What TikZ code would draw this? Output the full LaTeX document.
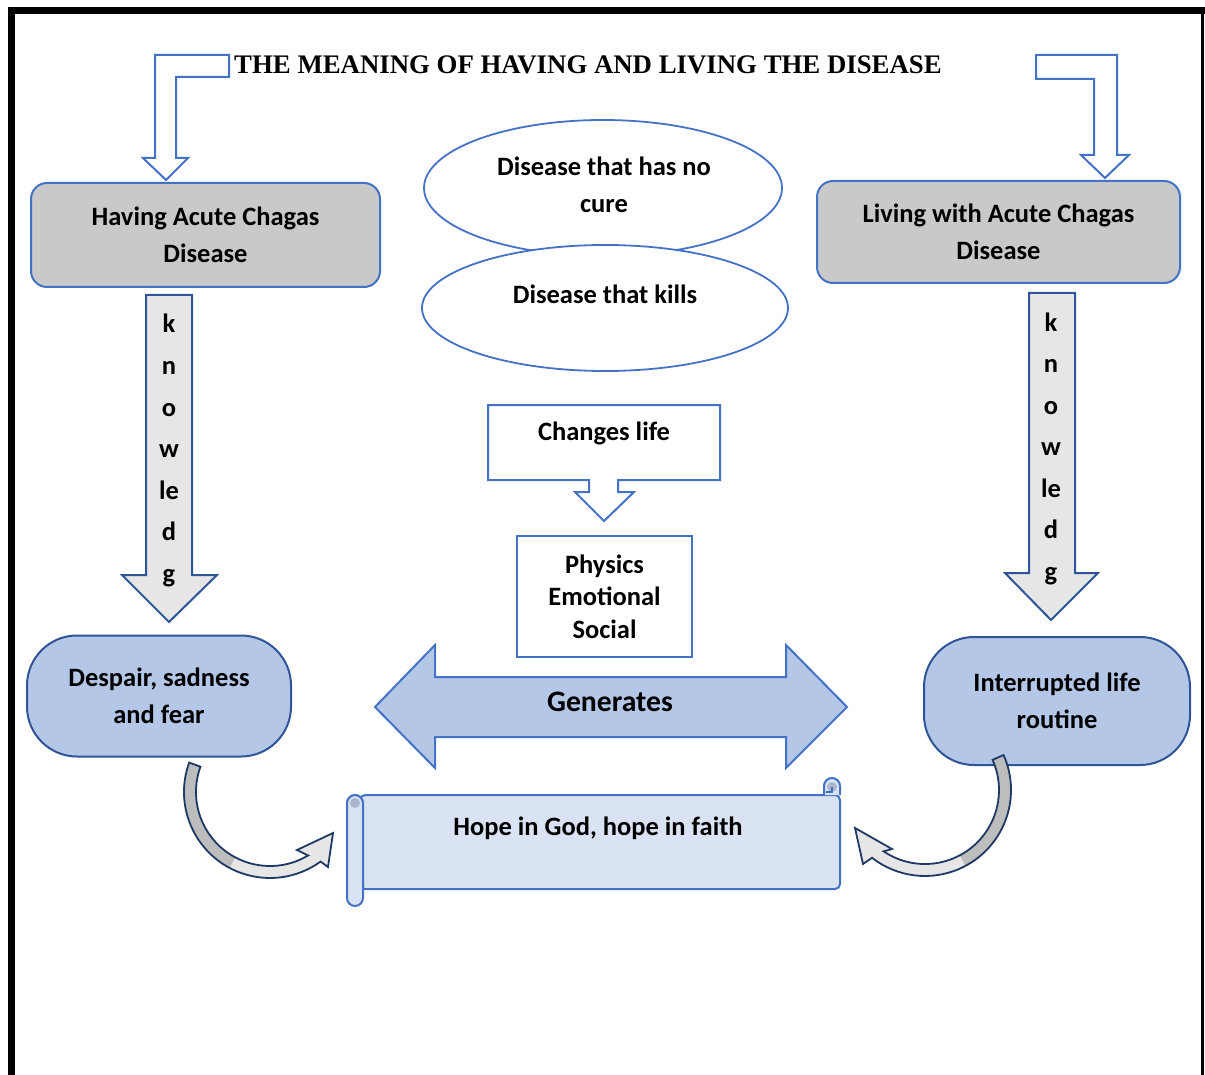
\documentclass[tikz,border=0pt]{standalone}
\usepackage{fontspec}
\setmainfont{Carlito}
\newfontfamily\titlefont{Liberation Serif}
\usetikzlibrary{shapes.geometric,calc}
\definecolor{accblue}{HTML}{4472C4}
\definecolor{darkblue}{HTML}{2F5597}
\definecolor{navyline}{HTML}{1F3864}
\definecolor{boxgray}{HTML}{C9C9C9}
\definecolor{lightblue}{HTML}{B4C7E7}
\definecolor{paleblue}{HTML}{DAE3F3}
\definecolor{arrowgray}{HTML}{E7E6E6}
\definecolor{midgray}{HTML}{BDBDBD}
\definecolor{curlfill}{HTML}{A9B6CC}
\newcommand\LCurvePath{($(cl)+(200:86)$) arc[start angle=200, end angle=54, radius=86]
  -- (328,867) -- (333,833) -- (297,850)
  -- ($(cl)+(59:74)$) arc[start angle=59, end angle=200, radius=74] -- cycle}
\newcommand\RCurvePath{($(cr)+(-24:86)$) arc[start angle=-24, end angle=128, radius=86]
  -- (863,864) -- (855,828) -- (892,849)
  -- ($(cr)+(124:74)$) arc[start angle=124, end angle=-24, radius=74] -- cycle}
\begin{document}
\begin{tikzpicture}[x=1pt,y=-1pt,
  txt/.style={font=\bfseries\fontsize{26.5}{37}\selectfont, align=center, inner sep=0pt},
  bluebox/.style={draw=accblue, line width=2pt},
  grayhead/.style={draw=accblue, fill=boxgray, line width=2pt, rounded corners=16pt, inner sep=0pt,
    font=\bfseries\fontsize{26.5}{37}\selectfont, align=center},
  oval/.style={draw=darkblue, fill=lightblue, line width=2pt, rounded corners=50pt, inner sep=0pt,
    font=\bfseries\fontsize{26.5}{37}\selectfont, align=center},
  ell/.style={ellipse, draw=accblue, fill=white, line width=1.8pt, inner sep=0pt},
  hollowarrow/.style={draw=accblue, fill=white, line width=2pt},
  knowarrow/.style={draw=darkblue, fill=arrowgray, line width=2pt},
  letter/.style={font=\bfseries\fontsize{26.5}{30}\selectfont, anchor=base, inner sep=0pt},
  curveline/.style={draw=navyline, line width=1.8pt, line join=miter}
]
\useasboundingbox (0,0) rectangle (1205,1075);
% frame
\fill[black] (8,7) rectangle (1205,14);
\fill[black] (8,7) rectangle (15,1075);
\fill[black] (1201,7) rectangle (1204,1075);

% title
\node[font=\titlefont\bfseries\fontsize{26.8}{30}\selectfont, inner sep=0pt] (title) at (588,65)
  {THE MEANING OF HAVING AND LIVING THE DISEASE};

% top bent arrows
\path[hollowarrow] (229,55) -- (155,55) -- (155,158) -- (143,158) -- (166,180) -- (188,158)
  -- (176,158) -- (176,77) -- (229,77) -- cycle;
\path[hollowarrow] (1036,55) -- (1117,55) -- (1117,155) -- (1129,155) -- (1105,178) -- (1081,155)
  -- (1094,155) -- (1094,79) -- (1036,79) -- cycle;

% header boxes
\node[grayhead, minimum width=349pt, minimum height=104pt] (having) at (205.5,235)
  {Having Acute Chagas\\Disease};
\node[grayhead, minimum width=363pt, minimum height=102pt] (living) at (998.5,232)
  {Living with Acute Chagas\\Disease};

% ellipses
\node[ell, minimum width=358pt, minimum height=136pt] (nocure) at (603,188) {};
\node[txt] (nocuretext) at (604,184.5) {Disease that has no\\cure};
\node[ell, minimum width=366pt, minimum height=126pt] (kills) at (605,308) {};
\node[txt] (killstext) at (605,294) {Disease that kills};

% changes life callout
\path[hollowarrow] (488,405) -- (720,405) -- (720,480) -- (618,480) -- (618,492) -- (634,492)
  -- (604,521) -- (575,492) -- (589,492) -- (589,480) -- (488,480) -- cycle;
\node[txt] (changes) at (604,433) {Changes life};

% physics box
\node[bluebox, minimum width=175pt, minimum height=121pt, inner sep=0pt,
  font=\bfseries\fontsize{26.5}{32.5}\selectfont, align=center] (physics) at (604.5,596.5)
  {Physics\\Emotional\\Social};

% generates double arrow
\path[draw=accblue, fill=lightblue, line width=2pt] (375,707) -- (435,645) -- (435,677) -- (786,677)
  -- (786,645) -- (847,707) -- (786,768) -- (786,737) -- (435,737) -- (435,768) -- cycle;
\node[font=\bfseries\fontsize{29.7}{34}\selectfont, inner sep=0pt] (generates) at (610,702) {Generates};

% knowledge arrows
\path[knowarrow] (146,295) -- (192,295) -- (192,575) -- (217,575) -- (169,622) -- (122,575)
  -- (146,575) -- cycle;
\path[knowarrow] (1029,293) -- (1075,293) -- (1075,573) -- (1098,573) -- (1051,620) -- (1005,573)
  -- (1029,573) -- cycle;
\foreach \t [count=\i from 0] in {k,n,o,w,le,d,g} {
  \node[letter] (kl\i) at (169,333+41.5*\i) {\t};
  \node[letter] (kr\i) at (1051,331+41.5*\i) {\t};
}

% ovals
\node[oval, minimum width=264pt, minimum height=121pt] (despair) at (159,696)
  {Despair, sadness\\and fear};
\node[oval, minimum width=266pt, minimum height=128pt] (interrupted) at (1057,701)
  {Interrupted life\\routine};

% scroll
\path[draw=accblue, fill=paleblue, line width=2pt, rounded corners=5pt]
  (360,795) -- (840,795) [sharp corners] -- (840,884) [rounded corners=5pt] -- (840,889) -- (360,889) -- cycle;
\path[draw=accblue, fill=paleblue, line width=2pt] (824,795) -- (824,786)
  arc[start angle=180, end angle=360, radius=8] -- (840,795);
\fill[curlfill] (832,787) circle[radius=5];
\draw[accblue, line width=1.5pt] (832,787) -- (832,792) -- (826,792);
\path[draw=accblue, fill=paleblue, line width=2pt, rounded corners=8pt] (347,795) rectangle (363,906);
\fill[curlfill] (355,803) circle[radius=5];
\draw[accblue, line width=1.5pt] (347,803) arc[start angle=180, end angle=360, radius=8];
\node[txt] (hope) at (598,828) {Hope in God, hope in faith};

% curved arrows
\coordinate (cl) at (270,792);
\coordinate (cr) at (925,790);
\fill[arrowgray] \LCurvePath;
\fill[midgray] ($(cl)+(200:86)$) arc[start angle=200, end angle=118, radius=86]
  -- ($(cl)+(118:74)$) arc[start angle=118, end angle=200, radius=74] -- cycle;
\path[curveline] \LCurvePath;
\fill[arrowgray] \RCurvePath;
\fill[midgray] ($(cr)+(-24:86)$) arc[start angle=-24, end angle=62, radius=86]
  -- ($(cr)+(62:74)$) arc[start angle=62, end angle=-24, radius=74] -- cycle;
\path[curveline] \RCurvePath;
\end{tikzpicture}
\end{document}
